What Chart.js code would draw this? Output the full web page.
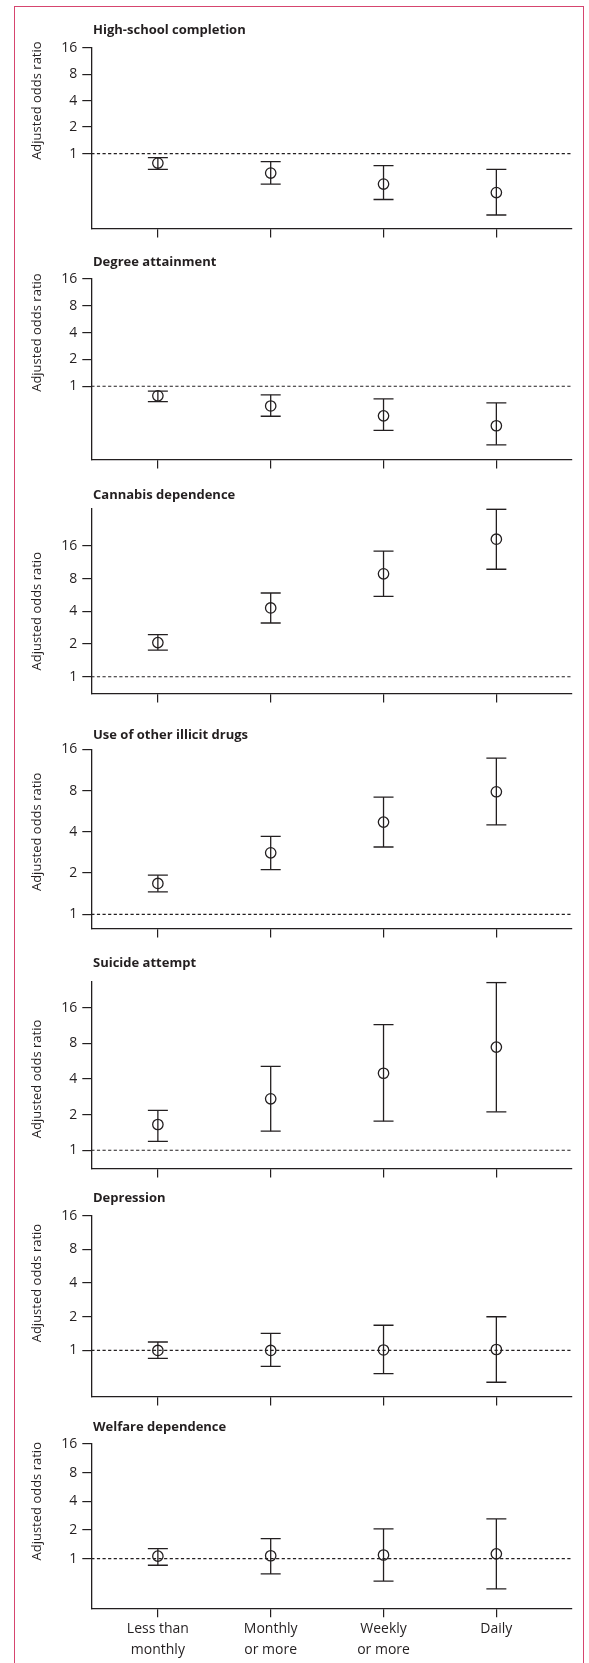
<!DOCTYPE html>
<html>
<head>
<meta charset="utf-8">
<script src="https://cdn.jsdelivr.net/npm/chart.js@4.4.1/dist/chart.umd.min.js"></script>
<style>
    html, body { margin: 0; padding: 0; background: #fff; }
    body { width: 589px; height: 1663px; position: relative; overflow: hidden; }
    #frame { position: absolute; left: 14px; top: 6px; width: 570px; height: 1700px; border: 1.5px solid #d6456f; box-sizing: border-box; }
    canvas { position: absolute; left: 0; }
</style>
</head>
<body>
<div id="frame"></div>
<canvas id="p1"></canvas>
<canvas id="p2"></canvas>
<canvas id="p3"></canvas>
<canvas id="p4"></canvas>
<canvas id="p5"></canvas>
<canvas id="p6"></canvas>
<canvas id="p7"></canvas>
<script>
// categories and ticks
var CATEGORIES = [['Less than', 'monthly'], ['Monthly', 'or more'], ['Weekly', 'or more'], ['Daily']];
var Y_TICKS = [1, 2, 4, 8, 16];
var Y_TITLE = 'Adjusted odds ratio';

// adjusted odds ratio, lower and upper 95% CI, per outcome
var hsOR = [0.78, 0.60, 0.45, 0.36];
var hsLo = [0.66, 0.45, 0.30, 0.20];
var hsHi = [0.90, 0.81, 0.73, 0.66];

var degOR = [0.78, 0.60, 0.465, 0.36];
var degLo = [0.67, 0.46, 0.32, 0.22];
var degHi = [0.88, 0.80, 0.72, 0.65];

var canOR = [2.06, 4.29, 8.84, 18.4];
var canLo = [1.76, 3.12, 5.49, 9.74];
var canHi = [2.44, 5.89, 14.3, 34.7];

var drugOR = [1.68, 2.81, 4.71, 7.84];
var drugLo = [1.46, 2.12, 3.10, 4.49];
var drugHi = [1.93, 3.71, 7.17, 13.8];

var suiOR = [1.65, 2.72, 4.47, 7.43];
var suiLo = [1.19, 1.45, 1.76, 2.11];
var suiHi = [2.17, 5.11, 11.5, 26.1];

var depOR = [1.00, 1.00, 1.01, 1.02];
var depLo = [0.85, 0.72, 0.62, 0.52];
var depHi = [1.19, 1.42, 1.68, 2.00];

var welOR = [1.06, 1.07, 1.09, 1.12];
var welLo = [0.85, 0.69, 0.58, 0.48];
var welHi = [1.27, 1.62, 2.05, 2.61];

// x axis range (category index units)
var X_MIN = -0.59, X_MAX = 3.666;

var panels = [
    { id: 'p1', title: 'High-school completion', or: hsOR, lo: hsLo, hi: hsHi, titleY: 30.7, top: 47.7, bottom: 229.3, ymin: 0.14, ymax: 16 },
    { id: 'p2', title: 'Degree attainment', or: degOR, lo: degLo, hi: degHi, titleY: 262.7, top: 279, bottom: 461, ymin: 0.15, ymax: 16 },
    { id: 'p3', title: 'Cannabis dependence', or: canOR, lo: canLo, hi: canHi, titleY: 495, top: 508.3, bottom: 695, ymin: 0.744, ymax: 35.4 },
    { id: 'p4', title: 'Use of other illicit drugs', or: drugOR, lo: drugLo, hi: drugHi, titleY: 735, top: 749.3, bottom: 929.3, ymin: 0.787, ymax: 16 },
    { id: 'p5', title: 'Suicide attempt', or: suiOR, lo: suiLo, hi: suiHi, titleY: 963.5, top: 981.7, bottom: 1169.3, ymin: 0.747, ymax: 26.5 },
    { id: 'p6', title: 'Depression', or: depOR, lo: depLo, hi: depHi, titleY: 1198.5, top: 1215.7, bottom: 1397.3, ymin: 0.387, ymax: 16 },
    { id: 'p7', title: 'Welfare dependence', or: welOR, lo: welLo, hi: welHi, titleY: 1427.5, top: 1444, bottom: 1608.3, ymin: 0.34, ymax: 16, labels: true }
];

var INK = '#231f20';
Chart.defaults.font.family = "'Open Sans', 'Noto Sans', sans-serif";
Chart.defaults.color = INK;

var panelText = {
    id: 'panelText',
    afterDraw: function(chart, args, opts) {
        var c = chart.ctx;
        var y = chart.scales.y;
        c.save();
        c.fillStyle = INK;
        c.textBaseline = 'middle';
        c.textAlign = 'left';
        c.font = "bold 13px 'Open Sans', sans-serif";
        c.fillText(opts.title, 93, opts.titleY);
        var mid = (y.getPixelForValue(1) + y.getPixelForValue(16)) / 2;
        c.translate(37.5, mid);
        c.rotate(-Math.PI / 2);
        c.textAlign = 'center';
        c.font = "13px 'Open Sans', sans-serif";
        c.fillText(Y_TITLE, 0, 0);
        c.restore();
    }
};

panels.forEach(function(p) {
    var xH = p.labels ? 55 : 12;
    var canvasTop = Math.floor(p.titleY - 12);
    var canvasH = Math.ceil(p.bottom - canvasTop + xH);
    var el = document.getElementById(p.id);
    el.width = 589;
    el.height = canvasH;
    el.style.top = canvasTop + 'px';

    var whiskers = [];
    var points = [];
    p.or.forEach(function(v, i) {
        whiskers.push({ x: i, y: p.lo[i] }, { x: i, y: p.hi[i] }, { x: i, y: null });
        points.push({ x: i, y: v });
    });

    var ctx = el.getContext('2d');
    var myChart = new Chart(ctx, {
        type: 'scatter',
        data: {
            datasets: [{
                data: points,
                pointStyle: 'circle',
                pointRadius: 5.2,
                pointBorderWidth: 1.3,
                pointBorderColor: INK,
                pointBackgroundColor: 'rgba(0,0,0,0)'
            },
            {
                type: 'line',
                data: whiskers,
                showLine: true,
                spanGaps: false,
                borderColor: INK,
                borderWidth: 1.3,
                pointStyle: 'line',
                pointRadius: 10,
                pointBorderWidth: 1.3,
                pointBorderColor: INK
            },
            {
                type: 'line',
                data: [{ x: X_MIN, y: 1 }, { x: X_MAX, y: 1 }],
                borderColor: INK,
                borderWidth: 1.2,
                borderDash: [3.2, 2.4],
                pointRadius: 0
            }]
        },
        options: {
            responsive: false,
            animation: false,
            events: [],
            layout: {
                padding: { left: 0, right: 589 - 571.5, top: p.top - canvasTop, bottom: canvasH - xH - (p.bottom - canvasTop) }
            },
            plugins: {
                legend: { display: false },
                tooltip: { enabled: false },
                panelText: { title: p.title, titleY: p.titleY - canvasTop }
            },
            scales: {
                x: {
                    type: 'linear',
                    min: X_MIN,
                    max: X_MAX,
                    afterBuildTicks: function(scale) {
                        scale.ticks = CATEGORIES.map(function(c, i) { return { value: i }; });
                    },
                    afterFit: function(scale) { scale.height = xH; },
                    grid: { drawOnChartArea: false, drawTicks: true, tickLength: 9, color: INK, lineWidth: 1.2 },
                    border: { display: true, color: INK, width: 1.3 },
                    ticks: {
                        autoSkip: false,
                        maxRotation: 0,
                        padding: 1,
                        font: { size: 14, lineHeight: 1.5 },
                        callback: function(v, i) { return p.labels ? CATEGORIES[i] : ''; }
                    }
                },
                y: {
                    type: 'logarithmic',
                    min: p.ymin,
                    max: p.ymax,
                    afterBuildTicks: function(scale) {
                        scale.ticks = Y_TICKS.map(function(v) { return { value: v }; });
                    },
                    afterFit: function(scale) { scale.width = 91.3; },
                    grid: { drawOnChartArea: false, drawTicks: true, tickLength: 9, color: INK, lineWidth: 1.2 },
                    border: { display: true, color: INK, width: 1.3 },
                    ticks: {
                        padding: 5,
                        font: { size: 14 },
                        callback: function(v) { return String(v); }
                    }
                }
            }
        },
        plugins: [panelText]
    });
});
</script>
</body>
</html>
